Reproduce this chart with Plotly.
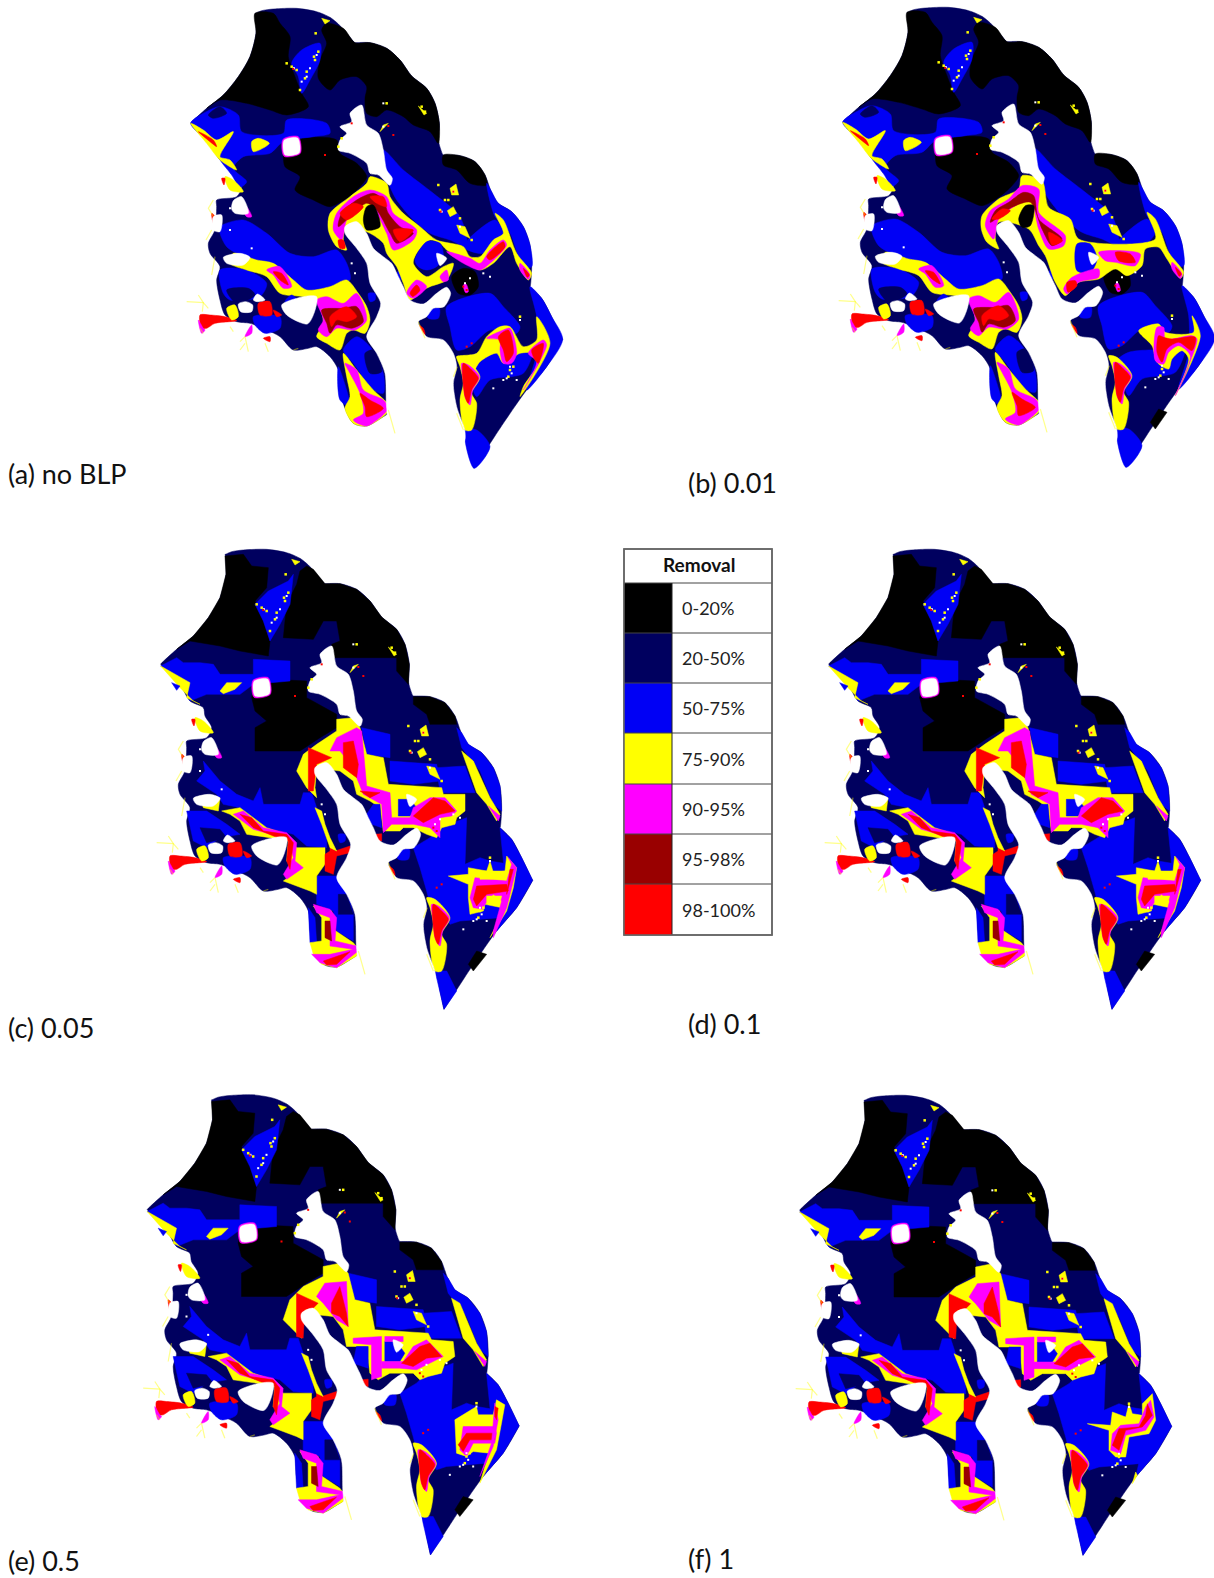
import plotly.graph_objects as go

# ---------- colours and legend ----------
COLOURS = {"K": "#000000", "N": "#00005f", "B": "#0000f5", "Y": "#ffff00",
           "M": "#ff00ff", "D": "#990000", "R": "#ff0000", "W": "#ffffff"}
LEGEND_TITLE = "Removal"
LEGEND_LABELS = ["0-20%", "20-50%", "50-75%", "75-90%", "90-95%", "95-98%", "98-100%"]
LEGEND_KEYS = ["K", "N", "B", "Y", "M", "D", "R"]
LEGEND_ROWS = [583, 633, 683, 733, 784, 834, 884, 935]

# ---------- panel captions and placement ----------
PANEL_NAMES = ["a", "b", "c", "d", "e", "f"]
CAPTIONS = ["(a) no BLP", "(b) 0.01", "(c) 0.05", "(d) 0.1", "(e) 0.5", "(f) 1"]
CAPTION_X = [6, 686, 6, 686, 6, 686]
CAPTION_Y = [473, 482, 1027, 1023, 1560, 1558]
ORIGIN_X = [170, 822, 140, 808, 126.5, 779]
ORIGIN_Y = [0, -1, 541, 541, 1086.5, 1087]

# ---------- map geography (3x pixel units within a panel) ----------
OUTLINE = [(255,40),(256,40),(275,32),(310,27),(380,25),(440,35),(480,52),(505,72),(530,100),(553,127),(555,128),(557,128),(600,128),(650,145),(690,180),
           (725,228),(770,265),(795,310),(808,370),(806,425),(818,463),(820,465),(822,465),(870,467),(915,485),(945,525),(963,573),
           (985,610),(1025,635),(1060,680),(1080,735),(1085,800),(1081,858),(1080,860),(1082,862),(1115,895),(1145,950),(1176,1014),(1178,1018),(1176,1022),
           (1130,1100),(1070,1170),(1000,1270),(914,1402),(912,1405),(911,1402),(900,1350),(885,1290),(660,1240),(640,1250),(590,1278),
           (550,1270),(525,1225),(510,1170),(505,1110),(480,1070),(440,1040),(415,1045),(370,1050),(330,1010),
           (290,990),(240,970),(200,965),(165,945),(150,900),(140,840),(150,800),(120,760),(115,730),(135,690),
           (140,620),(140,600),(200,590),(215,560),(195,525),(190,500),(150,480),(120,430),(64,372),(62,370),(64,367),(110,325),
           (160,285),(205,230),(240,170),(258,100),(256,45)]
WATER = [
    [(525,680),(560,665),(590,700),(610,745),(640,770),(665,790),(685,830),(700,860),(720,900),(760,912),(800,880),
     (830,862),(842,880),(822,920),(790,925),(770,950),(745,965),(770,1010),(820,1020),(850,1060),(860,1100),
     (850,1150),(860,1220),(885,1295),(880,1330),(670,1330),(650,1225),(645,1120),(620,1060),(590,1010),
     (620,950),(632,910),(600,850),(590,790),(560,745),(525,700)],
    [(540,340),(575,315),(590,375),(625,400),(640,450),(650,510),(667,535),(660,556),(625,525),(600,520),(590,490),
     (540,460),(505,450),(510,420),(530,400),(510,380),(545,365)],
    [(160,772),(210,760),(240,772),(220,795),(170,790)],
    [(205,912),(228,905),(248,915),(245,935),(212,935)],
    [(250,900),(262,882),(285,900),(262,905)],
    [(335,915),(400,890),(440,890),(432,940),(412,972),(350,945)],
    [(190,602),(215,590),(235,640),(195,640),(185,628)],
    [(130,650),(155,645),(150,695),(130,690)],
    [(800,760),(830,775),(810,797)],
]
CITY_RING = [(339,418),(385,410),(391,460),(342,469)]
CITY_CORE = [(342,421),(383,414),(388,458),(345,465)]
YELLOW_FRINGE = [
    [(50,905),(100,908),(97,935)], [(85,885),(100,908),(115,925)], [(100,1000),(90,985)], [(210,1025),(225,1010),(235,1055)],
    [(210,1050),(225,1030)], [(130,600),(115,625),(130,650)], [(125,690),(108,720)], [(135,770),(125,825)],
    [(285,1030),(295,1055)], [(370,1050),(385,1045)], [(655,1230),(675,1300)], [(860,1240),(880,1290)],
    [(850,1130),(862,1100)], [(745,965),(765,1015)], [(180,980),(190,995)],
]
YELLOW_LUMPS = [
    [(455,55),(480,62),(465,72)], [(840,565),(858,552),(866,585),(845,585)], [(860,675),(885,680),(900,715),(870,700)],
    [(745,318),(770,340),(762,345)], [(832,632),(850,620),(860,640),(840,650)], [(640,375),(655,370),(630,395)],
]
SPECK_WHITE = [(372,205),(410,230),(440,165),(420,205),(395,245),(850,575),(815,635),(870,680),(180,625),(180,690),
               (1010,1135),(970,1165),(640,310),(640,380),(245,745),(1050,960),(555,820),(545,790),(885,850),(900,835),
               (940,820),(960,830),(1020,1100),(1025,1120),(1000,1140),(1040,1140)]
SPECK_YELLOW = [(437,100),(365,200),(380,210),(432,170),(410,215),(405,235),(435,180),(445,155),(390,270),(350,190),
                (805,555),(835,600),(810,630),(870,655),(905,720),(825,600),(650,310),(755,320),(765,335),(1030,1100),(1015,1130),
                (1050,950),(1020,1110),(505,440),(515,415)]
SPECK_RED = [(465,465),(370,207),(850,575),(812,635),(545,370),(670,405),(890,1040),(905,1030),(880,860),(890,870),(655,378)]

# ---------- base layers: smooth (panels a,b) ----------
BASE_SMOOTH = [
    ("K",[(255,40),(310,40),(330,70),(360,110),(355,170),(375,230),(395,280),(415,320),(350,345),(300,330),(230,310),
          (150,300),(110,325),(160,285),(205,230),(240,170),(258,100)]),
    ("K",[(470,70),(520,85),(555,128),(600,128),(650,145),(690,180),(725,228),(770,265),(795,310),(808,370),(805,430),
          (780,395),(730,375),(700,350),(650,330),(620,350),(590,340),(585,295),(590,260),(560,230),(510,240),(480,270),
          (445,235),(450,180),(470,130),(455,90)]),
    ("K",[(820,465),(870,467),(915,485),(945,525),(950,555),(900,550),(860,510),(820,495)]),
    ("K",[(340,470),(340,440),(400,415),(500,420),(510,460),(560,490),(590,530),(570,560),(530,595),(480,620),(430,600),
          (375,570),(390,530),(345,500)]),
    ("B",[(395,150),(450,130),(450,180),(420,240),(395,280),(385,230),(365,190)]),
    ("B",[(62,370),(100,340),(150,320),(205,345),(215,395),(340,400),(350,360),(470,370),(480,400),(430,410),(340,425),
          (300,460),(220,470),(190,505),(230,545),(210,562),(185,525),(150,480),(130,440)]),
    ("N",[(115,345),(150,320),(170,340),(130,355)]),
    ("B",[(150,680),(220,660),(290,700),(360,760),(430,770),(500,750),(530,790),(540,840),(480,860),(410,870),(360,840),
          (290,800),(220,770),(170,740),(150,700)]),
    ("B",[(150,810),(230,810),(290,850),(270,890),(180,900),(160,880)]),
    ("N",[(170,870),(235,865),(255,885),(200,910)]),
    ("B",[(640,450),(700,510),(790,580),(870,650),(890,740),(840,720),(780,700),(730,660),(680,600),(660,560),(640,500)]),
    ("B",[(950,550),(965,575),(985,610),(1025,635),(1060,680),(1080,735),(1085,800),(1060,800),(1020,700),(975,650)]),
    ("B",[(880,740),(975,660),(1000,700),(940,760)]),
    ("B",[(830,920),(960,880),(1000,920),(1050,980),(1040,1000),(960,990),(900,1040),(860,1050),(840,980)]),
    ("B",[(1080,860),(1115,895),(1145,950),(1178,1018),(1130,1100),(1070,1170),(1100,1060),(1100,950)]),
    ("B",[(920,1060),(1040,1050),(1090,1040),(1060,1120),(960,1140),(920,1190),(900,1140),(880,1090)]),
    ("B",[(885,1290),(912,1405),(960,1340),(920,1290)]),
    ("B",[(520,1050),(560,1010),(600,1040),(640,1120),(640,1180),(610,1170),(550,1090)]),
    ("N",[(585,1060),(610,1050),(635,1115),(600,1120)]),
    ("B",[(505,1100),(530,1170),(540,1220),(510,1200)]),
    ("K",[(845,830),(880,805),(915,815),(925,860),(900,885),(865,880)]),
    ("M",[(880,855),(888,852),(895,875),(887,878)]),
    ("B",[(680,830),(695,795),(708,810),(700,840)]),
]
# ---------- base layers: blocky (panels c-f) ----------
BASE_BLOCK = [
    ("K",[(255,45),(310,40),(335,75),(385,80),(380,140),(345,180),(370,240),(390,300),(385,345),(300,330),(240,315),
          (150,300),(110,325),(160,285),(205,230),(240,170),(258,100)]),
    ("K",[(500,75),(520,85),(555,128),(600,128),(650,145),(690,180),(725,228),(770,265),(795,310),(808,370),(805,430),
          (770,390),(770,350),(640,350),(580,350),(575,310),(600,300),(590,240),(550,240),(520,295),(430,290),(440,190),
          (470,130),(480,90)]),
    ("K",[(335,470),(340,440),(395,415),(500,420),(500,470),(590,520),(590,560),(540,590),(480,630),(345,630),(345,560),
          (380,540),(345,510)]),
    ("K",[(860,520),(820,490),(820,467),(870,467),(915,485),(945,525),(950,550),(870,550)]),
    ("K",[(985,1270),(1010,1230),(1040,1240),(1000,1290)]),
    ("B",[(385,150),(445,120),(460,100),(450,190),(420,250),(390,300),(370,240),(345,190)]),
    ("B",[(62,375),(110,350),(130,365),(180,365),(220,370),(240,400),(340,400),(340,355),(450,360),(450,420),(340,430),
          (300,460),(200,460),(150,480),(140,440),(110,410)]),
    ("B",[(190,660),(240,720),(290,760),(340,780),(360,740),(370,790),(480,790),(490,755),(515,755),(530,800),(560,890),
          (560,920),(500,915),(460,880),(380,860),(300,800),(250,790),(230,760),(170,720),(195,690)]),
    ("B",[(140,810),(200,810),(260,850),(300,880),(240,890),(200,920),(160,900)]),
    ("N",[(180,860),(240,865),(260,890),(200,905)]),
    ("B",[(665,560),(750,580),(750,650),(680,640)]),
    ("B",[(750,660),(890,670),(900,720),(820,730),(750,720)]),
    ("B",[(890,680),(975,675),(1005,755),(900,755)]),
    ("B",[(950,560),(965,575),(985,610),(1025,635),(1060,680),(1080,735),(1085,810),(1060,790),(1020,690),(965,620)]),
    ("B",[(820,920),(870,890),(900,860),(980,830),(975,970),(1020,950),(1050,960),(1110,970),(1100,1100),(1080,1130),
          (960,1140),(930,1150),(870,1090),(860,1050),(840,980)]),
    ("B",[(1080,860),(1115,895),(1145,950),(1178,1018),(1130,1100),(1070,1170),(1100,1040),(1090,960)]),
    ("B",[(885,1290),(912,1405),(950,1350),(920,1290)]),
    ("B",[(530,1005),(590,1005),(620,1040),(640,1120),(640,1200),(590,1170),(580,1110),(530,1090)]),
    ("N",[(595,1060),(620,1060),(640,1120),(595,1120)]),
    ("B",[(505,1100),(525,1130),(530,1205),(510,1205)]),
]

# ---------- high removal zones ----------
HOT_A_NE = [
    ("Y",[(480,640),(540,590),(590,550),(600,530),(650,550),(660,590),(700,640),(750,680),(800,720),(880,740),(900,770),
          (930,770),(970,720),(1000,700),(975,640),(1000,660),(1040,760),(1085,820),(1075,840),(1040,790),(1020,740),
          (970,790),(930,810),(880,780),(830,750),(810,730),(780,720),(740,760),(730,790),(770,830),(820,800),(850,790),
          (830,840),(780,860),(760,870),(720,900),(700,850),(680,800),(650,760),(640,730),(600,700),(530,680),(520,720),
          (530,750),(500,740),(475,690)]),
    ("B",[(735,780),(770,725),(810,730),(820,770),(800,800),(770,810),(745,800)]),
    ("M",[(490,690),(500,640),(550,590),(600,570),(650,590),(670,640),(740,690),(730,720),(670,750),(650,700),(610,620),
          (590,600),(560,630),(530,660),(515,720)]),
    ("D",[(505,680),(515,640),(560,600),(610,580),(640,600),(655,640),(690,680),(730,700),(680,730),(660,700),(620,630),(590,610)]),
    ("R",[(510,640),(550,610),(580,620),(530,660)]),
    ("R",[(600,590),(640,590),(650,620),(620,610)]),
    ("R",[(670,690),(730,690),(690,725)]),
    ("R",[(505,720),(520,720),(525,745),(510,745)]),
    ("K",[(590,620),(610,615),(630,680),(590,690),(580,660)]),
    ("M",[(830,755),(900,775),(930,790),(960,750),(1000,720),(1010,735),(960,790),(930,810),(880,790)]),
    ("R",[(950,770),(1000,725),(1005,740),(960,780)]),
    ("M",[(710,880),(740,840),(770,860),(730,895)]),
    ("R",[(720,880),(740,855),(750,870),(728,890)]),
    ("M",[(810,830),(830,810),(835,840),(820,845)]),
    ("M",[(1050,790),(1080,825),(1075,838),(1050,810)]),
    ("R",[(1060,805),(1078,825),(1072,832)]),
]
HOT_B_NE = [
    ("Y",[(480,650),(530,600),(590,570),(600,530),(660,545),(680,625),(745,660),(770,720),(1000,720),(975,640),(1000,660),
          (1040,760),(1085,820),(1075,838),(1035,780),(1010,745),(970,750),(960,800),(915,830),(880,810),(830,840),(770,850),
          (730,890),(700,850),(670,770),(650,740),(620,690),(530,670),(520,720),(530,750),(495,730),(478,690)]),
    ("B",[(765,735),(805,735),(825,780),(805,820),(765,815)]),
    ("M",[(490,680),(505,635),(560,600),(600,560),(650,570),(650,640),(730,710),(725,740),(680,750),(650,690),(625,600),(580,620),(530,660),(515,720)]),
    ("D",[(505,670),(520,635),(560,610),(605,580),(635,590),(650,660),(720,720),(690,740),(660,690),(625,610),(570,625)]),
    ("R",[(510,660),(540,630),(565,635),(530,660)]),
    ("R",[(680,700),(722,725),(690,738)]),
    ("K",[(590,660),(610,620),(635,620),(625,680),(600,685)]),
    ("M",[(830,760),(900,755),(955,765),(940,800),(880,790),(850,785)]),
    ("R",[(880,760),(925,765),(940,790),(890,785)]),
    ("M",[(725,870),(750,835),(830,810),(830,835),(770,850),(735,885)]),
    ("R",[(735,850),(760,845),(765,860),(738,880)]),
    ("M",[(1050,790),(1080,825),(1075,838),(1050,810)]),
    ("R",[(1060,805),(1078,825),(1072,832)]),
]
HOT_A_SE = [
    ("Y",[(860,1070),(920,1060),(950,1010),(990,980),(1020,980),(1060,1040),(1100,1020),(1100,950),(1140,1030),(1050,1190),
          (1060,1160),(1110,1080),(1095,1060),(1050,1060),(1000,1090),(980,1060),(930,1085),(905,1120),(880,1090)]),
    ("M",[(950,1015),(1000,990),(1020,985),(1040,1060),(1025,1090),(1000,1090),(990,1050),(990,1020)]),
    ("R",[(985,1010),(1015,990),(1030,1060),(1010,1085),(1000,1050)]),
    ("M",[(1075,1060),(1120,1020),(1130,1035),(1060,1170),(1100,1085)]),
    ("R",[(1085,1050),(1120,1030),(1105,1090),(1095,1080)]),
]
HOT_B_SE = [
    ("Y",[(950,995),(1010,975),(1030,1000),(1115,1000),(1110,950),(1135,1010),(1060,1190),(1100,1080),(1080,1055),(1050,1080),
          (1040,1110),(1005,1090),(990,1040)]),
    ("M",[(1005,985),(1025,985),(1030,1020),(1110,1010),(1125,1020),(1060,1190),(1105,1070),(1070,1040),(1040,1060),(1025,1095),(1000,1085)]),
    ("R",[(1010,1010),(1025,1015),(1050,1020),(1120,1015),(1110,1055),(1070,1030),(1035,1050),(1020,1090),(1005,1060)]),
]
HOT_COAST = [
    ("Y",[(860,1070),(885,1075),(930,1130),(905,1180),(920,1210),(905,1290),(885,1290),(870,1200),(880,1150),(870,1100)]),
    ("M",[(875,1090),(895,1095),(928,1130),(908,1170),(900,1215),(885,1190),(880,1140)]),
    ("R",[(880,1090),(905,1110),(925,1135),(905,1170),(895,1210),(885,1190)]),
]
HOT_A_SW = [
    ("Y",[(190,760),(260,780),(310,790),(370,840),(410,870),(480,860),(530,840),(565,880),(590,920),(600,960),(585,1000),
          (550,990),(530,1000),(510,1050),(470,1030),(440,1010),(460,970),(440,900),(400,890),(330,880),(290,830),(230,810),(180,790)]),
    ("M",[(440,900),(470,890),(520,910),(560,880),(590,960),(555,990),(500,985),(470,1010),(445,990),(460,960)]),
    ("D",[(455,930),(520,925),(560,920),(580,965),(545,985),(500,975),(480,1000),(470,970)]),
    ("R",[(480,950),(530,920),(560,950),(530,965),(500,960),(485,980)]),
    ("M",[(290,810),(330,800),(365,860),(340,865),(310,825)]),
    ("R",[(310,815),(335,820),(355,855),(330,840)]),
    ("B",[(345,905),(365,885),(385,905),(365,925)]),
    ("Y",[(520,1060),(560,1110),(610,1170),(655,1215),(650,1240),(590,1278),(550,1270),(525,1225),(540,1190),(530,1130)]),
    ("M",[(525,1090),(560,1110),(580,1170),(640,1200),(655,1225),(590,1278),(550,1260),(580,1240),(570,1180),(540,1120)]),
    ("R",[(570,1180),(600,1200),(640,1225),(590,1250),(585,1220)]),
    ("Y",[(62,370),(100,390),(140,420),(190,395),(150,470),(180,480),(200,510),(150,480),(110,430)]),
    ("R",[(85,395),(130,420),(140,440),(120,425)]),
    ("Y",[(245,425),(265,415),(298,430),(250,455)]),
]
HOT_C_NE = [
    ("Y",[(470,690),(490,640),(530,610),(590,570),(590,535),(640,530),(660,560),(680,640),(730,650),(745,730),(905,740),
          (910,760),(975,760),(975,810),(950,830),(945,850),(905,860),(890,890),(860,880),(820,860),(790,860),(780,870),
          (730,870),(720,800),(690,780),(650,760),(640,720),(600,690),(530,680),(525,740),(530,770),(500,740)]),
    ("B",[(775,775),(810,775),(830,800),(810,825),(775,825)]),
    ("B",[(680,820),(700,790),(720,790),(725,860),(695,850)]),
    ("M",[(590,590),(650,560),(665,570),(680,735),(750,755),(755,830),(810,830),(820,800),(870,770),(915,770),(950,810),
          (935,825),(900,830),(900,890),(870,860),(820,850),(755,850),(730,875),(725,790),(670,760),(650,710),(640,680),(600,630),(570,630)]),
    ("R",[(610,605),(640,600),(655,670),(650,710),(610,680)]),
    ("R",[(505,620),(530,630),(575,650),(530,670),(520,750),(505,750)]),
    ("R",[(660,750),(720,755),(690,770)]),
    ("R",[(820,825),(880,770),(915,780),(945,810),(900,820),(850,845)]),
    ("Y",[(965,630),(1000,660),(1050,770),(1080,820),(1070,840),(1040,790),(1010,755)]),
    ("M",[(1045,795),(1080,825),(1075,840)]),
    ("R",[(705,880),(725,878),(725,900),(710,900)]),
]
HOT_E_NE = [
    ("Y",[(470,700),(490,640),(530,600),(590,570),(590,540),(640,530),(665,560),(685,640),(730,650),(745,730),(905,740),
          (915,760),(980,765),(985,810),(955,830),(945,860),(905,870),(880,880),(860,860),(790,860),(755,880),(730,860),
          (720,780),(660,780),(650,730),(620,690),(530,680),(525,755),(490,720)]),
    ("B",[(775,765),(810,765),(835,800),(820,825),(775,825)]),
    ("B",[(690,780),(725,780),(725,845),(680,830)]),
    ("M",[(570,630),(595,590),(660,585),(665,720),(630,700),(605,670),(590,650)]),
    ("M",[(680,755),(765,750),(765,870),(735,880),(735,775),(680,770)]),
    ("M",[(765,825),(830,825),(860,780),(900,760),(950,810),(920,825),(870,850),(820,845),(765,845)]),
    ("M",[(775,750),(830,750),(830,765),(775,765)]),
    ("R",[(510,620),(530,630),(575,650),(560,665),(535,670),(530,755),(510,750)]),
    ("R",[(615,650),(640,600),(660,680),(665,720),(640,690),(615,680)]),
    ("R",[(825,830),(880,780),(910,770),(945,810),(900,815),(860,840)]),
    ("Y",[(975,635),(1000,650),(1050,770),(1080,820),(1070,840),(1040,790),(1010,755)]),
    ("M",[(1045,795),(1080,825),(1075,840)]),
    ("R",[(705,880),(725,878),(725,900),(710,900)]),
]
HOT_C_SE = [
    ("Y",[(925,1005),(985,1000),(985,980),(1040,990),(1050,960),(1060,995),(1095,990),(1100,945),(1130,980),(1120,1040),(1100,1110),
          (1050,1190),(1070,1150),(1085,1100),(1035,1090),(1030,1110),(990,1120),(985,1070),(985,1030)]),
    ("M",[(1005,1010),(1100,1020),(1115,970),(1105,950),(1130,980),(1100,1100),(1060,1190),(1060,1170),(1085,1080),(1060,1060),
          (1035,1090),(1030,1105),(1000,1100),(990,1070)]),
    ("R",[(1010,1035),(1100,1030),(1105,1050),(1040,1060),(1010,1095),(1000,1075)]),
    ("R",[(1110,985),(1120,985),(1100,1060)]),
    ("Y",[(1040,1065),(1085,1065),(1080,1085),(1040,1085)]),
    ("Y",[(1020,990),(1095,990),(1095,1015),(1020,1015)]),
]
HOT_E_SE = [
    ("Y",[(985,1000),(1050,960),(1055,985),(1100,985),(1110,940),(1135,955),(1125,1010),(1110,1090),(1060,1190),(1075,1140),
          (1090,1100),(1040,1095),(1020,1110),(990,1100)]),
    ("M",[(1010,1020),(1105,1020),(1110,1040),(1105,1070),(1040,1070),(1020,1110),(1000,1090)]),
    ("R",[(995,1075),(1020,1040),(1105,1040),(1105,1060),(1030,1060),(1010,1095)]),
    ("M",[(1105,950),(1115,1000),(1100,1080),(1060,1170),(1095,1070)]),
    ("R",[(1105,960),(1115,965),(1110,1000),(1105,990)]),
]
HOT_F_SE = [
    ("Y",[(925,1010),(975,1015),(995,1015),(1000,975),(1040,990),(1050,950),(1060,980),(1090,985),(1090,950),(1120,920),
          (1130,1000),(1110,1040),(1050,1050),(1040,1110),(1010,1110),(990,1090),(990,1030)]),
    ("M",[(1000,1040),(1025,1015),(1080,1010),(1100,960),(1115,940),(1125,990),(1100,1030),(1040,1045),(1025,1100),(995,1090)]),
    ("R",[(1000,1075),(1020,1025),(1080,1020),(1100,985),(1105,950),(1120,985),(1090,1020),(1040,1030),(1020,1090)]),
    ("Y",[(1060,1190),(1070,1155),(1075,1165)]),
]
HOT_C_SW = [
    ("Y",[(180,770),(240,770),(235,810),(190,800)]),
    ("Y",[(245,810),(300,800),(380,860),(440,880),(470,920),(555,920),(555,970),(530,1005),(530,1060),(510,1050),(430,1020),
          (470,990),(440,960),(445,900),(390,890),(320,880),(300,840),(270,820)]),
    ("M",[(280,820),(310,810),(370,860),(440,875),(470,905),(465,960),(490,980),(440,1015),(430,1000),(460,950),(445,895),
          (390,880),(340,865),(300,835)]),
    ("R",[(300,820),(335,830),(370,870),(440,880),(460,905),(450,985),(440,960),(445,900),(400,885),(340,860)]),
    ("R",[(570,895),(585,930),(630,915),(630,935),(590,945),(580,1000),(555,990),(555,940),(570,930)]),
    ("Y",[(520,1095),(575,1110),(580,1165),(640,1205),(655,1225),(650,1245),(590,1280),(545,1270),(520,1240),(510,1205),(545,1200),(545,1130)]),
    ("M",[(520,1090),(570,1105),(590,1130),(585,1200),(650,1215),(655,1230),(590,1280),(540,1265),(515,1240),(570,1240),(640,1225),(570,1215),(570,1130),(530,1115)]),
    ("D",[(555,1140),(570,1140),(575,1200),(555,1190)]),
    ("R",[(550,1260),(630,1232),(590,1270),(560,1272)]),
    ("Y",[(62,375),(150,425),(140,470),(180,490),(160,480),(120,440)]),
    ("B",[(95,425),(120,435),(110,448)]),
    ("Y",[(240,450),(260,425),(305,425),(285,445),(250,458)]),
    ("Y",[(525,800),(545,810),(555,850),(570,890),(590,930),(570,920),(545,850)]),
]
HOT_WEST = [
    ("B",[(250,950),(330,950),(330,985),(285,1000),(255,975)]),
    ("R",[(90,945),(120,945),(165,950),(200,962),(135,970),(110,985),(95,985)]),
    ("M",[(85,960),(100,985),(105,990),(95,1000)]),
    ("R",[(265,910),(300,905),(305,945),(270,945)]),
    ("R",[(310,930),(335,945),(320,950)]),
    ("Y",[(170,925),(195,915),(205,950),(185,960)]),
    ("M",[(225,1010),(245,975),(245,1000)]),
    ("R",[(280,1015),(300,1010),(300,1025)]),
    ("M",[(205,600),(230,620),(245,650),(230,650)]),
    ("R",[(125,640),(135,650),(130,670)]),
    ("Y",[(165,530),(190,540),(220,575),(180,570)]),
    ("R",[(155,535),(165,535),(162,555)]),
    ("R",[(745,975),(760,985),(765,1005),(750,1000)]),
    ("B",[(770,932),(808,925),(805,955),(775,955)]),
    ("B",[(415,915),(435,915),(432,935),(418,935)]),
    ("B",[(595,880),(615,880),(615,900),(600,905)]),
]

SMOOTH_SETS = [BASE_SMOOTH, HOT_A_NE, HOT_B_NE, HOT_A_SE, HOT_B_SE, HOT_COAST, HOT_A_SW, HOT_WEST]
SMOOTH_IDS = {id(p) for group in SMOOTH_SETS for _, p in group}

SCENES = {
    "a": BASE_SMOOTH + HOT_A_NE + HOT_A_SE + HOT_COAST + HOT_A_SW + HOT_WEST,
    "b": BASE_SMOOTH + [("K",[(985,1270),(1010,1230),(1035,1240),(1000,1290)])] + HOT_B_NE + HOT_B_SE + HOT_COAST + HOT_A_SW + HOT_WEST,
    "c": BASE_BLOCK + HOT_C_NE + HOT_C_SE + HOT_COAST + HOT_C_SW + HOT_WEST,
    "d": BASE_BLOCK + HOT_C_NE + HOT_C_SE + HOT_COAST + HOT_C_SW + HOT_WEST,
    "e": BASE_BLOCK + HOT_E_NE + HOT_E_SE + HOT_COAST + HOT_C_SW + HOT_WEST,
    "f": BASE_BLOCK + HOT_E_NE + HOT_F_SE + HOT_COAST + HOT_C_SW + HOT_WEST,
}

fig = go.Figure()


def add_poly(points, key, ox, oy, smooth=False):
    xs = [ox + p[0] / 3 for p in points] + [ox + points[0][0] / 3]
    ys = [oy + p[1] / 3 for p in points] + [oy + points[0][1] / 3]
    col = COLOURS[key]
    line = dict(color=col, width=0.5)
    if smooth:
        line.update(shape="spline", smoothing=0.8)
    fig.add_trace(go.Scatter(x=xs, y=ys, mode="lines", fill="toself", fillcolor=col,
                             line=line, hoverinfo="skip", showlegend=False))


def add_line(points, key, ox, oy, width):
    fig.add_trace(go.Scatter(x=[ox + p[0] / 3 for p in points], y=[oy + p[1] / 3 for p in points], mode="lines",
                             line=dict(color=COLOURS[key], width=width), opacity=0.45, hoverinfo="skip", showlegend=False))


def add_specks(points, key, ox, oy, size):
    fig.add_trace(go.Scatter(x=[ox + p[0] / 3 for p in points], y=[oy + p[1] / 3 for p in points], mode="markers",
                             marker=dict(color=COLOURS[key], size=size, symbol="square", line=dict(width=0)),
                             hoverinfo="skip", showlegend=False))


for name, ox, oy in zip(PANEL_NAMES, ORIGIN_X, ORIGIN_Y):
    add_poly(OUTLINE, "N", ox, oy, smooth=True)
    for key, pts in SCENES[name]:
        add_poly(pts, key, ox, oy, smooth=id(pts) in SMOOTH_IDS)
    add_poly(CITY_RING, "M", ox, oy, smooth=True)
    for pts in WATER:
        add_poly(pts, "W", ox, oy, smooth=True)
    add_poly(CITY_CORE, "W", ox, oy, smooth=True)
    for pts in YELLOW_LUMPS:
        add_poly(pts, "Y", ox, oy)
    for pts in YELLOW_FRINGE:
        add_line(pts, "Y", ox, oy, 1.2)
    add_specks(SPECK_YELLOW, "Y", ox, oy, 2.5)
    add_specks(SPECK_WHITE, "W", ox, oy, 2)
    add_specks(SPECK_RED, "R", ox, oy, 2)

annotations = []
for text, x, y in zip(CAPTIONS, CAPTION_X, CAPTION_Y):
    annotations.append(dict(x=x, y=y, text=text, showarrow=False, xanchor="left", yanchor="middle",
                            font=dict(family="Lato", size=27, color="#111111")))

LEG_L, LEG_M, LEG_R, LEG_T = 624, 672, 772, 549
shapes = [dict(type="rect", x0=LEG_L, x1=LEG_R, y0=LEG_T, y1=LEGEND_ROWS[-1], line=dict(color="#666666", width=1.5),
               fillcolor="white", layer="below")]
for i, (lab, key) in enumerate(zip(LEGEND_LABELS, LEGEND_KEYS)):
    y0, y1 = LEGEND_ROWS[i], LEGEND_ROWS[i + 1]
    shapes.append(dict(type="rect", x0=LEG_L, x1=LEG_M, y0=y0, y1=y1, fillcolor=COLOURS[key], line=dict(width=0), layer="above"))
    shapes.append(dict(type="line", x0=LEG_L, x1=LEG_R, y0=y0, y1=y0, line=dict(color="#444444", width=1), layer="above"))
    annotations.append(dict(x=680, y=(y0 + y1) / 2, text=lab, showarrow=False, xanchor="left", yanchor="middle",
                            font=dict(family="Lato", size=18, color="#222222")))
shapes.append(dict(type="line", x0=LEG_M, x1=LEG_M, y0=LEGEND_ROWS[0], y1=LEGEND_ROWS[-1], line=dict(color="#222222", width=1), layer="above"))
shapes.append(dict(type="rect", x0=LEG_L, x1=LEG_R, y0=LEG_T, y1=LEGEND_ROWS[-1], line=dict(color="#666666", width=1.5), layer="above"))
annotations.append(dict(x=699, y=564, text="<b>" + LEGEND_TITLE + "</b>", showarrow=False, xanchor="center", yanchor="middle",
                        font=dict(family="Lato", size=19, color="#111111")))

fig.update_layout(width=1214, height=1578, margin=dict(l=0, r=0, t=0, b=0), paper_bgcolor="white", plot_bgcolor="white",
                  xaxis=dict(range=[0, 1214], visible=False, fixedrange=True),
                  yaxis=dict(range=[1578, 0], visible=False, fixedrange=True),
                  annotations=annotations, shapes=shapes, showlegend=False)
fig.write_html("out.html", post_script="document.body.style.margin='0';", config=dict(displayModeBar=False))
